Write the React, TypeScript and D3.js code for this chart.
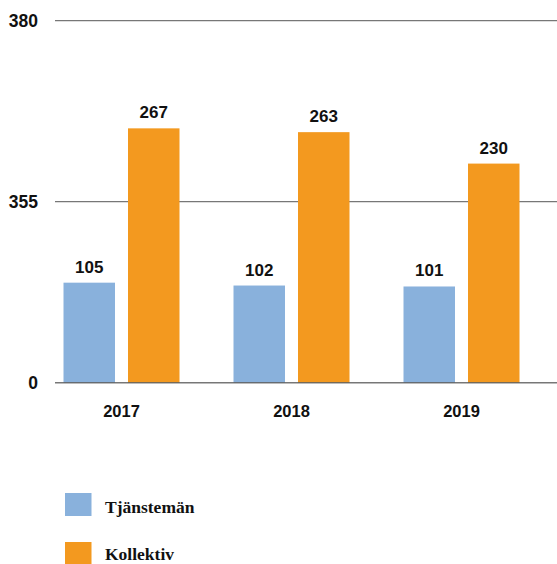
import React from "react";
import * as d3 from "d3";

const years = ["2017", "2018", "2019"];
const tjanstemanValues = [105, 102, 101];
const kollektivValues = [267, 263, 230];
const tickValues = [0, 190, 380];
const tickLabels = ["0", "355", "380"];
const seriesNames = ["Tjänstemän", "Kollektiv"];
const colors = ["#89b1dc", "#f3991f"];

const W = 557;
const H = 564;

export default function App() {
  const y = d3.scaleLinear().domain([0, 380]).range([382.7, 20.7]);
  const x = d3.scaleBand().domain(years).range([36.5, 546.5]).paddingInner(0).paddingOuter(0);
  const barW = 51.5;
  const gap = 13;
  const numFont = "'Liberation Sans', Arial, sans-serif";
  const serif = "'Liberation Serif', 'Times New Roman', serif";
  const series = [tjanstemanValues, kollektivValues];

  return (
    <svg width={W} height={H} style={{ position: "absolute", left: 0, top: 0, background: "#fff" }}>
      {tickValues.map((t, i) =>
        i > 0 ? (
          <line key={"g" + i} x1={55} x2={W} y1={y(t)} y2={y(t)} stroke="#777" strokeWidth={1.3} />
        ) : null
      )}
      {tickValues.map((t, i) => (
        <text key={"t" + i} x={38} y={y(t)} dy="0.36em" textAnchor="end" fontFamily={numFont} fontWeight="bold" fontSize={17.5} fill="#111">
          {tickLabels[i]}
        </text>
      ))}
      {years.map((yr, gi) => {
        const c = (x(yr) as number) + x.bandwidth() / 2;
        return (
          <g key={yr}>
            {series.map((vals, si) => {
              const bx = c - gap / 2 - barW + si * (barW + gap);
              return (
                <g key={si}>
                  <rect x={bx} y={y(vals[gi])} width={barW} height={y(0) - y(vals[gi])} fill={colors[si]} />
                  <text x={bx + barW / 2} y={y(vals[gi]) - 10} textAnchor="middle" fontFamily={numFont} fontWeight="bold" fontSize={17} fill="#111">
                    {vals[gi]}
                  </text>
                </g>
              );
            })}
            <text x={c} y={411} dy="0.36em" textAnchor="middle" fontFamily={numFont} fontWeight="bold" fontSize={16.5} fill="#111">
              {yr}
            </text>
          </g>
        );
      })}
      <line x1={55} x2={W} y1={y(0)} y2={y(0)} stroke="#555" strokeOpacity={0.8} strokeWidth={1.5} />
      {seriesNames.map((n, i) => (
        <g key={n}>
          <rect x={65} y={493 + i * 49} width={26.5} height={23} fill={colors[i]} />
          <text x={105} y={507 + i * 47} dy="0.36em" fontFamily={serif} fontWeight="bold" fontSize={17.5} fill="#111">
            {n}
          </text>
        </g>
      ))}
    </svg>
  );
}
